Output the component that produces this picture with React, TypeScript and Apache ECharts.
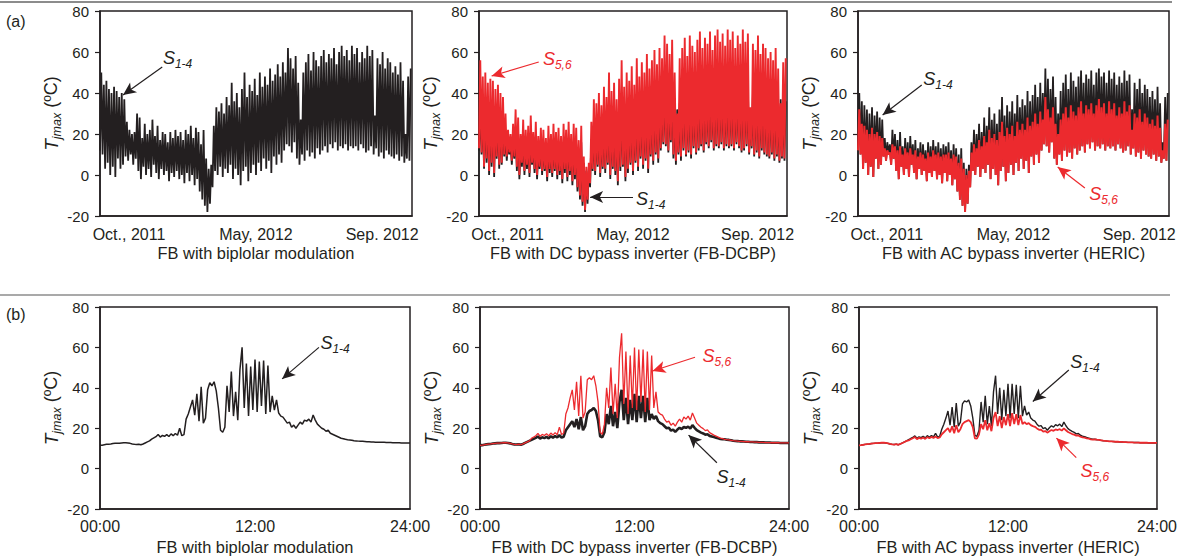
import { useEffect, useRef } from 'react'
import * as echarts from 'echarts'

const INK = '#231f20'
const RED = '#ec2a2e'
const FONT = "'Liberation Sans', Arial, Helvetica, sans-serif"

// (a) one year from Oct. 2011, one sample every 3 days: night minimum / daytime maximum (ºC)
const yearTickDays = [34, 183, 331]
const yearTickLabels = ['Oct., 2011', 'May, 2012', 'Sep. 2012']

const ambientLow = [
  12, 10, 3, 6, 0, 4, -1, 8, 3, 5,
  9, 7, 10, 5, 8, 2, -2, 4, 0, 3,
  -1, 5, 1, -2, 3, 0, 2, -3, 1, -1,
  2, -2, 0, -4, 1, -3, 0, -5, -2, -8,
  -12, -15, -18, -14, -6, 2, 0, 4, -1, 3,
  1, 5, -2, 3, 0, -5, 2, 4, -3, 1,
  5, 0, 6, 2, 8, 3, 7, 1, 9, 5,
  10, 6, 12, 15, 14, 11, 16, 8, 5, 10,
  7, 12, 9, 11, 8, 13, 10, 12, 14, 11,
  15, 13, 16, 12, 14, 13, 15, 12, 14, 13,
  14, 12, 15, 13, 11, 12, 14, 10, 13, 9,
  11, 8, 12, 10, 9, 8, 10, 7, 9, 6,
  8, 7
]

const bipolarHigh = [
  50, 44, 46, 42, 40, 43, 41, 38, 40, 37,
  26, 22, 20, 21, 30, 28, 18, 25, 20, 22,
  27, 19, 24, 17, 21, 20, 16, 21, 18, 22,
  19, 21, 17, 22, 20, 24, 18, 23, 21, 15,
  22, 8, 3, 5, 24, 33, 31, 35, 30, 38,
  34, 45, 36, 40, 33, 42, 50, 38, 44, 41,
  47, 39, 50, 43, 48, 44, 52, 46, 49, 54,
  48, 55, 50, 62, 57, 52, 58, 45, 27, 50,
  55, 59, 51, 60, 56, 53, 58, 61, 55, 59,
  57, 62, 54, 60, 63, 58, 61, 56, 63, 59,
  62, 55, 60, 57, 63, 58, 61, 29, 57, 54,
  60, 52, 57, 55, 50, 53, 49, 55, 46, 20,
  48, 52
]

const dcbpS56Low = [
  13, 11, 4, 8, 2, 6, 1, 9, 5, 6,
  10, 9, 11, 7, 9, 4, 0, 6, 2, 5,
  1, 6, 3, 0, 4, 2, 3, -1, 3, 1,
  3, 0, 2, -2, 3, -1, 2, -3, 0, -6,
  -10, -13, -17, -12, -4, 3, 2, 5, 1, 4,
  3, 6, 0, 4, 2, -3, 4, 5, -1, 3,
  6, 2, 7, 4, 9, 5, 8, 3, 10, 7,
  11, 8, 13, 16, 15, 12, 17, 10, 7, 11,
  9, 13, 10, 12, 10, 14, 11, 13, 15, 12,
  16, 14, 17, 13, 15, 14, 16, 13, 15, 14,
  15, 13, 16, 14, 12, 13, 15, 11, 14, 10,
  12, 9, 13, 11, 10, 9, 11, 8, 10, 7,
  9, 8
]

const dcbpS56High = [
  56, 48, 50, 45, 47, 46, 42, 44, 40, 38,
  30, 22, 20, 25, 32, 28, 20, 27, 22, 24,
  29, 21, 26, 19, 23, 22, 18, 24, 20, 25,
  21, 23, 19, 25, 22, 26, 20, 25, 23, 17,
  24, 9, 4, 6, 26, 37, 35, 40, 34, 43,
  38, 50, 41, 45, 37, 47, 56, 43, 50, 46,
  53, 44, 57, 48, 55, 50, 59, 52, 56, 61,
  54, 62, 57, 68, 64, 59, 66, 50, 30, 57,
  62, 67, 58, 68, 63, 60, 66, 70, 62, 67,
  64, 70, 61, 68, 71, 65, 69, 63, 71, 66,
  70, 62, 68, 64, 71, 65, 69, 33, 64, 61,
  68, 59, 64, 62, 57, 60, 56, 62, 52, 35,
  55, 57
]

const dcbpS14High = [
  35, 31, 32, 29, 28, 30, 28, 27, 28, 26,
  19, 16, 15, 16, 21, 20, 13, 18, 15, 16,
  19, 14, 17, 12, 15, 15, 12, 15, 13, 16,
  14, 15, 12, 16, 14, 17, 13, 16, 15, 11,
  16, 6, 2, 4, 17, 23, 22, 25, 21, 27,
  24, 31, 25, 28, 23, 29, 35, 27, 31, 29,
  33, 27, 35, 30, 34, 31, 36, 32, 34, 38,
  34, 38, 35, 43, 40, 36, 41, 32, 32, 35,
  38, 41, 36, 42, 39, 37, 41, 43, 38, 41,
  40, 43, 38, 42, 44, 41, 43, 39, 44, 41,
  43, 38, 42, 40, 44, 41, 43, 30, 40, 38,
  42, 36, 40, 38, 35, 37, 34, 38, 32, 37,
  34, 36
]

const hericS14High = [
  40, 36, 34, 32, 30, 33, 29, 31, 28, 27,
  18, 16, 15, 22, 20, 17, 21, 14, 18, 16,
  19, 15, 17, 13, 16, 15, 12, 16, 14, 17,
  14, 16, 13, 15, 14, 16, 12, 15, 13, 10,
  13, 6, 3, 5, 16, 22, 20, 25, 21, 28,
  24, 33, 27, 30, 25, 32, 38, 29, 34, 31,
  36, 30, 39, 33, 37, 34, 41, 36, 39, 44,
  38, 45, 40, 52, 47, 42, 48, 38, 30, 41,
  45, 49, 42, 50, 46, 43, 48, 51, 45, 49,
  47, 51, 44, 50, 52, 48, 50, 45, 51, 47,
  50, 44, 48, 45, 51, 46, 49, 32, 45, 42,
  47, 40, 44, 42, 38, 41, 37, 43, 35, 16,
  38, 40
]

const hericS56High = [
  32, 25, 24, 22, 20, 23, 20, 21, 19, 18,
  13, 12, 11, 15, 14, 12, 14, 10, 13, 11,
  13, 10, 12, 9, 11, 10, 8, 11, 9, 12,
  10, 11, 9, 10, 10, 11, 8, 10, 9, 6,
  8, 3, 0, 2, 11, 15, 13, 17, 14, 19,
  16, 22, 18, 20, 17, 21, 26, 19, 23, 20,
  24, 19, 26, 22, 25, 22, 28, 24, 26, 30,
  25, 31, 27, 38, 32, 28, 33, 25, 20, 27,
  30, 33, 28, 34, 31, 29, 33, 36, 30, 34,
  32, 35, 30, 34, 37, 33, 35, 30, 36, 32,
  35, 29, 33, 30, 36, 31, 34, 22, 30, 28,
  32, 26, 30, 28, 25, 27, 24, 29, 23, 12,
  25, 27
]

// (b) one day, 10-minute samples (ºC)
const dayTickLabels = ['00:00', '12:00', '24:00']

// 00:00 - 03:50, same for all switches
const dawn = [
  11.5, 11.6, 11.8, 12.0, 12.1, 12.2, 12.4, 12.5, 12.6, 12.6, 12.7, 12.8,
  12.8, 12.7, 12.5, 12.2, 12.0, 11.9, 12.1, 11.8, 12.2, 12.7, 13.2, 13.7
]
// 19:00 - 24:00
const dusk = [
  14.5, 14.3, 14.2, 14.0, 13.8, 13.7, 13.6, 13.5, 13.5, 13.4, 13.3, 13.3,
  13.2, 13.2, 13.1, 13.1, 13.0, 13.0, 13.0, 12.9, 12.9, 12.9, 12.8, 12.8,
  12.8, 12.8, 12.7, 12.7, 12.7, 12.7, 12.7
]
// 04:00 - 18:50
const bipolarDay = [
  14.6, 15.2, 15.8, 16.9, 15.6, 16.4,
  16.0, 16.8, 15.9, 17.2, 16.3, 17.4,
  16.5, 20.0, 16.3, 16.8, 24.5, 27.0,
  30.5, 34.0, 26.5, 37.0, 23.5, 40.5,
  22.5, 25.0, 39.0, 42.5, 41.0, 43.0,
  38.5, 30.0, 19.0, 18.0, 20.5, 41.0,
  28.0, 48.0, 26.0, 38.0, 24.0, 49.0,
  60.0, 30.0, 52.0, 26.0, 50.5, 29.0,
  54.0, 28.0, 53.0, 31.0, 53.5, 27.0,
  51.0, 28.0, 36.0, 29.0, 34.0, 27.5,
  26.0, 25.5, 24.0, 22.5, 23.0, 20.5,
  21.5, 20.0, 21.5, 23.0, 22.0, 24.0,
  23.5, 24.5, 23.0, 26.5, 24.0, 22.0,
  21.0, 20.0, 19.5, 18.5, 19.0, 17.5,
  17.0, 16.5, 16.0, 15.5, 15.0, 14.8
]
const dcbpS56Day = [
  15.0, 15.6, 16.3, 17.4, 16.0, 16.9,
  16.4, 17.3, 16.2, 17.6, 16.6, 17.8,
  16.8, 20.5, 16.9, 17.5, 27.0, 30.0,
  35.0, 39.0, 29.0, 43.0, 26.0, 46.0,
  25.0, 28.0, 44.0, 45.0, 44.0, 46.0,
  41.0, 33.0, 18.0, 17.0, 22.0, 40.0,
  30.0, 50.0, 27.0, 42.0, 25.0, 55.0,
  67.0, 32.0, 58.0, 27.0, 56.0, 30.0,
  60.0, 29.0, 59.0, 33.0, 59.0, 28.0,
  58.0, 29.0, 56.0, 30.0, 38.0, 28.0,
  27.0, 26.5, 24.5, 23.0, 23.5, 21.5,
  22.5, 21.0, 23.0, 24.5, 23.0, 25.5,
  24.5, 26.0, 24.0, 27.5, 25.0, 22.5,
  21.5, 20.5, 19.8, 18.8, 19.2, 17.8,
  17.2, 16.6, 16.1, 15.6, 15.1, 14.9
]
const dcbpS14Day = [
  14.2, 14.7, 15.2, 15.9, 14.9, 15.5,
  15.1, 15.7, 15.0, 16.0, 15.3, 16.1,
  15.5, 16.5, 15.4, 15.8, 19.0, 20.5,
  22.0, 23.5, 20.5, 24.5, 19.5, 25.5,
  19.0, 21.0, 27.0, 28.5, 29.0, 30.0,
  28.5, 24.0, 16.0, 15.5, 18.0, 27.0,
  22.0, 31.0, 21.0, 28.0, 20.0, 33.0,
  39.0, 24.0, 35.0, 22.0, 34.0, 24.0,
  37.0, 23.0, 36.0, 25.0, 36.0, 23.0,
  35.0, 24.0, 27.0, 24.5, 26.0, 23.5,
  22.5, 22.0, 21.0, 20.0, 20.2, 18.8,
  19.3, 18.2, 19.3, 20.2, 19.6, 20.6,
  20.2, 20.8, 19.8, 21.5, 20.2, 19.0,
  18.4, 17.8, 17.4, 16.8, 17.0, 16.2,
  15.9, 15.6, 15.3, 15.0, 14.7, 14.5
]
const hericS14Day = [
  14.3, 14.9, 15.4, 16.2, 15.0, 15.7,
  15.3, 16.0, 15.2, 16.3, 15.5, 16.4,
  15.7, 17.5, 15.6, 16.0, 19.5, 22.0,
  25.0, 28.5, 21.5, 30.5, 20.5, 32.5,
  21.0, 23.0, 32.0, 33.5, 33.0, 34.0,
  31.0, 25.0, 16.5, 16.0, 19.0, 33.0,
  23.0, 36.0, 22.0, 31.0, 21.0, 38.0,
  46.0, 27.0, 40.0, 24.0, 39.0, 26.0,
  42.0, 25.0, 42.0, 27.0, 41.5, 25.0,
  41.0, 26.0, 31.0, 26.5, 28.0, 25.0,
  24.0, 23.5, 22.0, 21.0, 21.3, 19.8,
  20.3, 19.0, 20.2, 21.2, 20.5, 21.8,
  21.2, 22.0, 20.8, 23.0, 21.2, 19.8,
  19.0, 18.4, 17.9, 17.2, 17.4, 16.5,
  16.1, 15.8, 15.4, 15.1, 14.8, 14.6
]
const hericS56Day = [
  14.0, 14.5, 15.0, 15.6, 14.6, 15.2,
  14.8, 15.4, 14.7, 15.6, 15.0, 15.7,
  15.2, 15.9, 15.1, 15.4, 17.0, 18.0,
  19.0, 20.0, 18.0, 21.0, 17.5, 21.5,
  18.0, 19.5, 22.0, 23.0, 23.5, 24.0,
  23.0, 20.5, 15.0, 14.8, 17.0, 22.0,
  19.5, 24.0, 19.0, 22.5, 18.5, 25.0,
  28.0, 21.0, 26.0, 20.0, 25.5, 21.5,
  27.0, 21.0, 27.5, 22.0, 27.0, 21.5,
  26.5, 22.0, 23.0, 22.0, 22.5, 21.5,
  21.0, 20.7, 19.9, 19.2, 19.3, 18.3,
  18.6, 17.8, 18.5, 19.1, 18.7, 19.4,
  19.1, 19.5, 18.8, 19.9, 19.0, 18.1,
  17.6, 17.1, 16.8, 16.3, 16.4, 15.8,
  15.5, 15.3, 15.0, 14.8, 14.5, 14.3
]

const subtitles = [
  'FB with biplolar modulation',
  'FB with DC bypass inverter (FB-DCBP)',
  'FB with AC bypass inverter (HERIC)'
]

// plot boxes in pixels
const boxes = [
  { left: 100, top: 11, width: 312, height: 205 },
  { left: 479, top: 11, width: 308, height: 205 },
  { left: 858, top: 11, width: 311, height: 205 },
  { left: 100, top: 307, width: 310, height: 205 },
  { left: 480, top: 307, width: 309, height: 205 },
  { left: 859, top: 307, width: 310, height: 205 }
]

// arrow + label per panel, in data units (day / hour, ºC)
type Note = { sub: string; color: string; at: number[]; from: number[]; to: number[] }
const notes: Note[][] = [
  [{ sub: '1-4', color: INK, at: [91, 57], from: [73, 52.7], to: [27, 39] }],
  [
    { sub: '5,6', color: RED, at: [93, 56.6], from: [71, 55.1], to: [15, 48.3] },
    { sub: '1-4', color: INK, at: [204, -11.7], from: [183, -10.7], to: [132, -10.7] }
  ],
  [
    { sub: '1-4', color: INK, at: [94, 46.8], from: [75, 43.9], to: [29, 29.3] },
    { sub: '5,6', color: RED, at: [289, -9.3], from: [267, -6.3], to: [235, 3.9] }
  ],
  [{ sub: '1-4', color: INK, at: [18.2, 62.4], from: [16.95, 60], to: [14.1, 44.4] }],
  [
    { sub: '5,6', color: RED, at: [18.4, 55.6], from: [16.7, 55.1], to: [13.4, 48.3] },
    { sub: '1-4', color: INK, at: [19.5, -4.4], from: [18.4, 2.9], to: [16.2, 16.6] }
  ],
  [
    { sub: '1-4', color: INK, at: [18.2, 52.7], from: [16.9, 48.8], to: [14.0, 33.2] },
    { sub: '5,6', color: RED, at: [19.0, -1.0], from: [17.5, 5.4], to: [15.9, 15.1] }
  ]
]

// each 3-day sample is drawn as a night low followed by a day high
const zigzag = (low: number[], high: number[]) => {
  const pts: number[][] = []
  low.forEach((v, i) => {
    pts.push([i * 3, v])
    pts.push([i * 3 + 1.5, high[i]])
  })
  return pts
}

const daily = (day: number[]) => [...dawn, ...day, ...dusk].map((v, i) => [i / 6, v])

const panels = [
  [{ data: zigzag(ambientLow, bipolarHigh), color: INK, width: 1.8 }],
  [
    { data: zigzag(ambientLow, dcbpS14High), color: INK, width: 1.8 },
    { data: zigzag(dcbpS56Low, dcbpS56High), color: RED, width: 1.9 }
  ],
  [
    { data: zigzag(ambientLow, hericS14High), color: INK, width: 1.8 },
    { data: zigzag(ambientLow, hericS56High), color: RED, width: 2 }
  ],
  [{ data: daily(bipolarDay), color: INK, width: 1.5 }],
  [
    { data: daily(dcbpS14Day), color: INK, width: 2.6 },
    { data: daily(dcbpS56Day), color: RED, width: 1.3 }
  ],
  [
    { data: daily(hericS14Day), color: INK, width: 1.4 },
    { data: daily(hericS56Day), color: RED, width: 1.8 }
  ]
]

export default function App() {
  const chartRef = useRef<HTMLDivElement>(null)

  useEffect(() => {
    if (!chartRef.current) return
    const chart = echarts.init(chartRef.current, null, { renderer: 'svg' })

    const grid = boxes.map(b => ({
      ...b,
      show: true,
      borderColor: INK,
      borderWidth: 1.5,
      backgroundColor: 'transparent'
    }))

    const xAxis = boxes.map((_, i) => {
      const year = i < 3
      return {
        type: 'value',
        gridIndex: i,
        min: 0,
        max: year ? 366 : 24,
        interval: year ? undefined : 12,
        splitLine: { show: false },
        axisLine: { show: true, onZero: false, lineStyle: { color: INK, width: 1.5 } },
        axisTick: { show: false },
        axisLabel: {
          color: INK,
          fontFamily: FONT,
          fontSize: 16,
          margin: year ? 10 : 9,
          customValues: year ? yearTickDays : undefined,
          formatter: (v: number) =>
            year ? yearTickLabels[yearTickDays.indexOf(v)] ?? '' : dayTickLabels[v / 12] ?? ''
        },
        name: subtitles[i % 3],
        nameLocation: 'middle',
        nameGap: year ? 29 : 30,
        nameTextStyle: { color: INK, fontFamily: FONT, fontSize: 16.4 }
      }
    })

    const yAxis = boxes.map((_, i) => ({
      type: 'value',
      gridIndex: i,
      min: -20,
      max: 80,
      interval: 20,
      splitLine: { show: false },
      axisLine: { show: true, onZero: false, lineStyle: { color: INK, width: 1.5 } },
      axisTick: { show: true, length: 5, lineStyle: { color: INK, width: 1.2 } },
      axisLabel: { color: INK, fontFamily: FONT, fontSize: 15, margin: 11 },
      name: '{t|T}{s|jmax}{n| (ºC)}',
      nameLocation: 'middle',
      nameRotate: 90,
      nameGap: 36,
      nameTextStyle: {
        color: INK,
        fontFamily: FONT,
        fontSize: 18,
        rich: {
          t: { fontFamily: FONT, fontSize: 19, fontStyle: 'italic', color: INK, lineHeight: 24 },
          s: { fontFamily: FONT, fontSize: 12.5, fontStyle: 'italic', color: INK, verticalAlign: 'bottom' },
          n: { fontFamily: FONT, fontSize: 18, color: INK, lineHeight: 24 }
        }
      }
    }))

    const series: any[] = []
    panels.forEach((list, p) => {
      list.forEach((s, k) => {
        const last = k === list.length - 1
        series.push({
          type: 'line',
          xAxisIndex: p,
          yAxisIndex: p,
          data: s.data,
          showSymbol: false,
          symbol: 'none',
          lineStyle: { color: s.color, width: s.width },
          itemStyle: { color: s.color },
          silent: true,
          markLine: last
            ? {
                silent: true,
                symbol: ['none', 'arrow'],
                symbolSize: [9, 13],
                label: { show: false },
                lineStyle: { type: 'solid', width: 1.2 },
                data: notes[p].map(n => [
                  { coord: n.from, lineStyle: { color: n.color, type: 'solid', width: 1.2 }, itemStyle: { color: n.color } },
                  { coord: n.to, itemStyle: { color: n.color } }
                ])
              }
            : undefined,
          markPoint: last
            ? {
                silent: true,
                symbol: 'circle',
                symbolSize: 1,
                itemStyle: { color: 'rgba(0,0,0,0)' },
                data: notes[p].map(n => ({
                  coord: n.at,
                  label: {
                    show: true,
                    position: 'inside',
                    formatter: `{s|S}{n|${n.sub}}`,
                    rich: {
                      s: { fontFamily: FONT, fontSize: 18, fontStyle: 'italic', color: n.color, lineHeight: 24 },
                      n: { fontFamily: FONT, fontSize: 12, fontStyle: 'italic', color: n.color, verticalAlign: 'bottom' }
                    }
                  }
                }))
              }
            : undefined
        })
      })
    })

    chart.setOption({
      animation: false,
      backgroundColor: '#ffffff',
      textStyle: { fontFamily: FONT },
      grid,
      xAxis,
      yAxis,
      series,
      graphic: [
        { type: 'line', shape: { x1: 0, y1: 2, x2: 1172, y2: 2 }, style: { stroke: '#8c8c8c', lineWidth: 2 } },
        { type: 'line', shape: { x1: 0, y1: 295, x2: 1170, y2: 295 }, style: { stroke: '#8c8c8c', lineWidth: 1.5 } },
        { type: 'text', left: 6, top: 13, style: { text: '(a)', fill: INK, font: `16px ${FONT}` } },
        { type: 'text', left: 6, top: 306, style: { text: '(b)', fill: INK, font: `16px ${FONT}` } }
      ]
    })

    const handleResize = () => chart.resize()
    window.addEventListener('resize', handleResize)

    return () => {
      window.removeEventListener('resize', handleResize)
      chart.dispose()
    }
  }, [])

  return (
    <div
      ref={chartRef}
      style={{ position: 'absolute', left: 0, top: 0, width: 1180, height: 556 }}
    />
  )
}
